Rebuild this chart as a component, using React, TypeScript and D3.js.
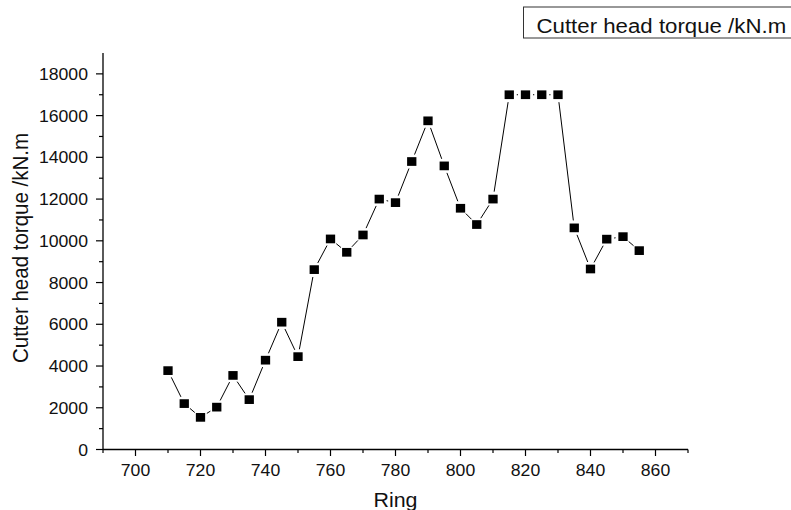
import React from "react";
import * as d3 from "d3";

// Ring numbers and cutter head torque (kN.m)
const rings: number[] = [
  710, 715, 720, 725, 730, 735, 740, 745, 750, 755, 760, 765, 770, 775, 780,
  785, 790, 795, 800, 805, 810, 815, 820, 825, 830, 835, 840, 845, 850, 855,
];
const torque: number[] = [
  3780, 2200, 1540, 2030, 3550, 2390, 4280, 6100, 4450, 8620, 10090, 9450,
  10280, 12000, 11830, 13800, 15750, 13590, 11560, 10780, 12000, 17000, 17000,
  17000, 17000, 10620, 8650, 10080, 10200, 9530,
];

const xMajorTicks: number[] = [700, 720, 740, 760, 780, 800, 820, 840, 860];
const xMinorTicks: number[] = [690, 710, 730, 750, 770, 790, 810, 830, 850, 870];
const yMajorTicks: number[] = [0, 2000, 4000, 6000, 8000, 10000, 12000, 14000, 16000, 18000];
const yMinorTicks: number[] = [1000, 3000, 5000, 7000, 9000, 11000, 13000, 15000, 17000];

const seriesName = "Cutter head torque /kN.m";
const xTitle = "Ring";
const yTitle = "Cutter head torque /kN.m";

const W = 791;
const H = 510;
const FONT = "'Liberation Sans', Arial, sans-serif";
const SX = 1.07; // horizontal text stretch

export default function App() {
  const x = d3.scaleLinear().domain([690, 870]).range([103, 688]);
  const y = d3.scaleLinear().domain([0, 19000]).range([449.5, 53]);

  const pts = rings.map((r, i) => ({ px: x(r), py: y(torque[i]) }));

  // connecting segments, trimmed near each symbol
  const gap = 7.5;
  const segs: { x1: number; y1: number; x2: number; y2: number }[] = [];
  for (let i = 0; i < pts.length - 1; i++) {
    const a = pts[i];
    const b = pts[i + 1];
    const dx = b.px - a.px;
    const dy = b.py - a.py;
    const len = Math.hypot(dx, dy);
    if (len <= 2 * gap) continue;
    const ux = dx / len;
    const uy = dy / len;
    segs.push({
      x1: a.px + ux * gap,
      y1: a.py + uy * gap,
      x2: b.px - ux * gap,
      y2: b.py - uy * gap,
    });
  }

  const x0 = x(690);
  const x1 = x(870);
  const y0 = y(0);
  const yTop = y(19000);

  const sqW = 9.3;
  const sqH = 8.7;

  return (
    <svg
      width={W}
      height={H}
      style={{ position: "absolute", left: 0, top: 0, background: "#fff" }}
      fontFamily={FONT}
    >
      <rect x={0} y={0} width={W} height={H} fill="#fff" />

      {/* legend */}
      <rect x={523.5} y={7} width={300} height={31} fill="#fff" stroke="#333" strokeWidth={1} />
      <g transform={`translate(536.5,32.5) scale(${SX * 0.99},1)`}>
        <text fontSize={21} fill="#111">{seriesName}</text>
      </g>

      {/* axes */}
      <line x1={x0} y1={y0} x2={x1} y2={y0} stroke="#000" strokeWidth={1.3} />
      <line x1={x0} y1={y0} x2={x0} y2={yTop} stroke="#000" strokeWidth={1.3} />

      {xMajorTicks.map((t) => (
        <g key={"xM" + t}>
          <line x1={x(t)} x2={x(t)} y1={y0} y2={y0 + 6.5} stroke="#000" strokeWidth={1.2} />
          <g transform={`translate(${x(t)},476) scale(${SX},1)`}>
            <text fontSize={16.5} textAnchor="middle" fill="#111">{t}</text>
          </g>
        </g>
      ))}
      {xMinorTicks.map((t) => (
        <line key={"xm" + t} x1={x(t)} x2={x(t)} y1={y0} y2={y0 + 3.5} stroke="#000" strokeWidth={1.2} />
      ))}

      {yMajorTicks.map((t) => (
        <g key={"yM" + t}>
          <line x1={x0 - 7} x2={x0} y1={y(t)} y2={y(t)} stroke="#000" strokeWidth={1.2} />
          <g transform={`translate(88,${y(t) + 6}) scale(${SX},1)`}>
            <text fontSize={16.5} textAnchor="end" fill="#111">{t}</text>
          </g>
        </g>
      ))}
      {yMinorTicks.map((t) => (
        <line key={"ym" + t} x1={x0 - 4} x2={x0} y1={y(t)} y2={y(t)} stroke="#000" strokeWidth={1.2} />
      ))}

      {/* axis titles */}
      <g transform={`translate(${(x0 + x1) / 2 + 0},506.5) scale(${SX},1)`}>
        <text fontSize={20} textAnchor="middle" fill="#111">{xTitle}</text>
      </g>
      <g transform={`translate(27.5,248) scale(${SX},1) rotate(-90)`}>
        <text fontSize={20.5} textAnchor="middle" fill="#111">{yTitle}</text>
      </g>

      {/* series */}
      {segs.map((s, i) => (
        <line key={"s" + i} {...s} stroke="#000" strokeWidth={1} />
      ))}
      {pts.map((p, i) => (
        <rect
          key={"p" + i}
          x={p.px - sqW / 2}
          y={p.py - sqH / 2}
          width={sqW}
          height={sqH}
          fill="#000"
        />
      ))}
    </svg>
  );
}
